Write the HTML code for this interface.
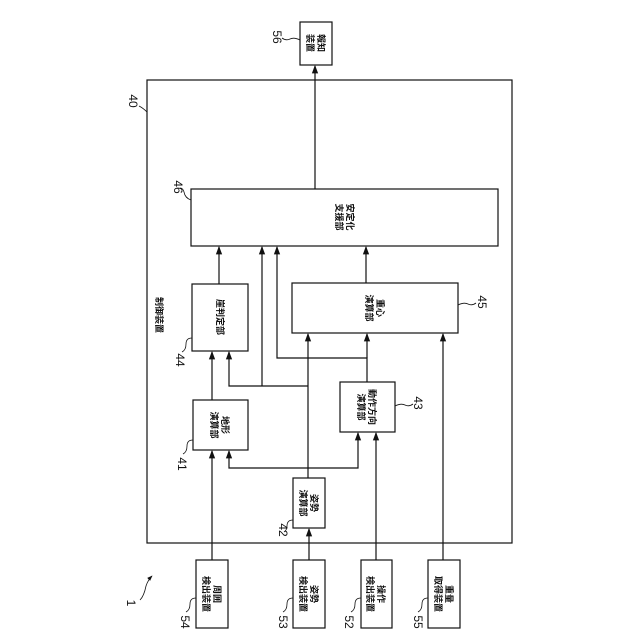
<!DOCTYPE html>
<html><head><meta charset="utf-8"><style>
html,body{margin:0;padding:0;background:#fff}
svg{display:block}
text{font-family:"Liberation Sans","Noto Sans CJK JP",sans-serif;fill:#111}
.j{font-size:9px;font-weight:bold}
.n{font-size:12px}
</style></head><body>
<svg width="640" height="640" viewBox="0 0 640 640" xmlns="http://www.w3.org/2000/svg">
<defs><marker id="a" viewBox="0 0 8 8" refX="7" refY="4" markerWidth="7" markerHeight="7" orient="auto"><path d="M0,1 L8,4 L0,7 z" fill="#111"/></marker></defs>
<g fill="none" stroke="#111" stroke-width="1.2">
<rect x="147" y="80" width="365" height="463"/>
<rect x="300" y="22" width="32" height="43"/>
<rect x="191" y="189" width="307" height="57"/>
<rect x="192" y="284" width="56" height="67"/>
<rect x="292" y="283" width="166" height="50"/>
<rect x="193" y="400" width="55" height="50"/>
<rect x="340" y="382" width="55" height="50"/>
<rect x="293" y="478" width="32" height="50"/>
<rect x="196" y="560" width="32" height="68"/>
<rect x="293" y="560" width="32" height="68"/>
<rect x="361" y="560" width="31" height="68"/>
<rect x="428" y="560" width="32" height="68"/>
<g marker-end="url(#a)">
<path d="M315,189 V66"/>
<path d="M212,560 V451"/>
<path d="M212,400 V352"/>
<path d="M219,284 V247"/>
<path d="M309,560 V529"/>
<path d="M308,478 V334"/>
<path d="M308,468 H229 V451"/>
<path d="M308,468 H358 V433"/>
<path d="M308,386 H229 V352"/>
<path d="M262,386 V247"/>
<path d="M367,382 V358 H277 V247"/>
<path d="M367,358 V334"/>
<path d="M376,560 V433"/>
<path d="M443,560 V334"/>
<path d="M366,283 V247"/>
</g>
<path d="M191,200 q-6,-2 -7,-8 q-1,-4 -4,-4" stroke-width="0.8"/>
<path d="M192,338 q-6,0 -6,6 q0,6 -4,8" stroke-width="0.8"/>
<path d="M193,440 q-6,0 -6,6 q0,6 -4,8" stroke-width="0.8"/>
<path d="M293,520 q-6,0 -6,6 q0,4 -3,6" stroke-width="0.8"/>
<path d="M395,406 q6,-3 10,-1 q4,2 8,-1" stroke-width="0.8"/>
<path d="M458,305 q6,-3 10,-1 q4,2 8,-1" stroke-width="0.8"/>
<path d="M300,40 q-6,-3 -10,-1 q-4,2 -8,-1" stroke-width="0.8"/>
<path d="M147,112 q-4,-4 -8,-6" stroke-width="0.8"/>
<path d="M196,598 q-6,0 -6,6 q0,6 -4,8" stroke-width="0.8"/>
<path d="M293,598 q-6,0 -6,6 q0,6 -4,8" stroke-width="0.8"/>
<path d="M361,598 q-6,0 -6,6 q0,6 -4,8" stroke-width="0.8"/>
<path d="M428,598 q-6,0 -6,6 q0,6 -4,8" stroke-width="0.8"/>
<path d="M140,600 q4,-4 6,-14 q2,-6 6,-10" stroke-width="0.8" marker-end="url(#a)"/>
</g>
<g class="j" text-anchor="middle">
<text transform="translate(316,43) rotate(90)"><tspan x="0" y="-2">報知</tspan><tspan x="0" y="9">装置</tspan></text>
<text transform="translate(345,217) rotate(90)"><tspan x="0" y="-2">安定化</tspan><tspan x="0" y="9">支援部</tspan></text>
<text transform="translate(220,317) rotate(90)"><tspan x="0" y="3">崖判定部</tspan></text>
<text transform="translate(375,308) rotate(90)"><tspan x="0" y="-2">重心</tspan><tspan x="0" y="9">演算部</tspan></text>
<text transform="translate(220,425) rotate(90)"><tspan x="0" y="-2">地形</tspan><tspan x="0" y="9">演算部</tspan></text>
<text transform="translate(367,407) rotate(90)"><tspan x="0" y="-2">動作方向</tspan><tspan x="0" y="9">演算部</tspan></text>
<text transform="translate(309,503) rotate(90)"><tspan x="0" y="-2">姿勢</tspan><tspan x="0" y="9">演算部</tspan></text>
<text transform="translate(212,594) rotate(90)"><tspan x="0" y="-2">周囲</tspan><tspan x="0" y="9">検出装置</tspan></text>
<text transform="translate(309,594) rotate(90)"><tspan x="0" y="-2">姿勢</tspan><tspan x="0" y="9">検出装置</tspan></text>
<text transform="translate(376,594) rotate(90)"><tspan x="0" y="-2">操作</tspan><tspan x="0" y="9">検出装置</tspan></text>
<text transform="translate(444,594) rotate(90)"><tspan x="0" y="-2">重量</tspan><tspan x="0" y="9">取得装置</tspan></text>
<text transform="translate(159,315) rotate(90)"><tspan x="0" y="3">制御装置</tspan></text>
</g>
<g class="n" text-anchor="middle">
<text transform="translate(178,187) rotate(90)" y="4">46</text>
<text transform="translate(180,360) rotate(90)" y="4">44</text>
<text transform="translate(182,464) rotate(90)" y="4">41</text>
<text transform="translate(283,530) rotate(90)" y="4">42</text>
<text transform="translate(418,403) rotate(90)" y="4">43</text>
<text transform="translate(482,302) rotate(90)" y="4">45</text>
<text transform="translate(277,37) rotate(90)" y="4">56</text>
<text transform="translate(133,101) rotate(90)" y="4">40</text>
<text transform="translate(185,622) rotate(90)" y="4">54</text>
<text transform="translate(283,622) rotate(90)" y="4">53</text>
<text transform="translate(349,622) rotate(90)" y="4">52</text>
<text transform="translate(418,622) rotate(90)" y="4">55</text>
<text transform="translate(131,603) rotate(90)" y="4">1</text>
</g>
</svg>
</body></html>
